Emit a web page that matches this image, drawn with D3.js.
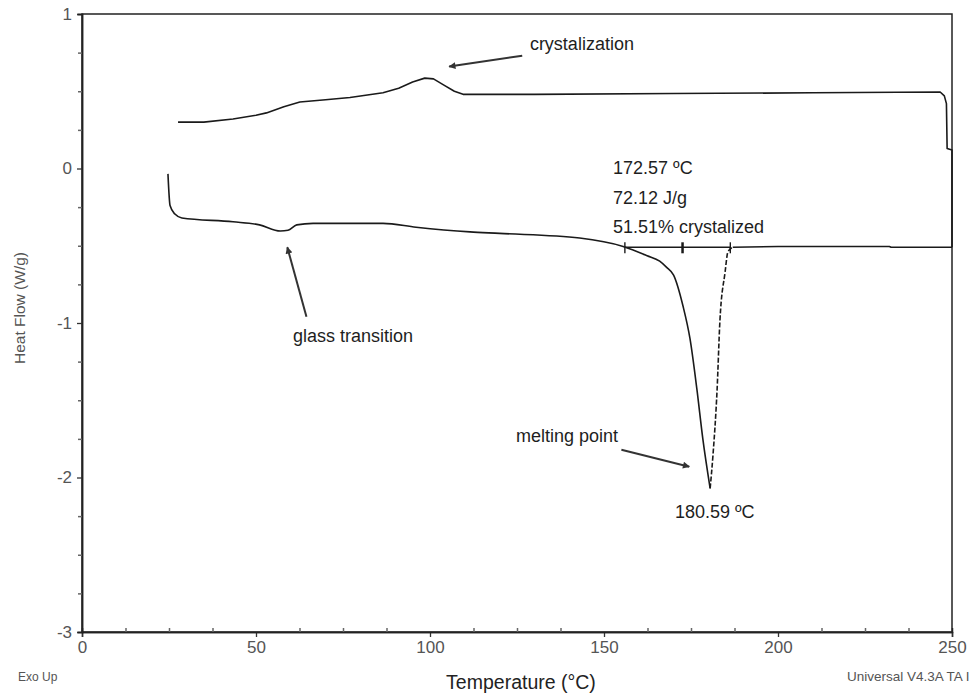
<!DOCTYPE html>
<html>
<head>
<meta charset="utf-8">
<script src="https://cdn.jsdelivr.net/npm/d3@7/dist/d3.min.js"></script>
<style>
  body { margin: 0; background: #fff; }
  svg { font-family: "Liberation Sans", Arial, sans-serif; }
</style>
</head>
<body>
<svg id="chart" width="978" height="694"></svg>
<script>
// heating scan, upper trace (T in °C, heat flow W/g)
const upperTrace = [
  [27.6, 0.30], [35, 0.30], [43.4, 0.32], [50, 0.345], [53, 0.36], [58, 0.40],
  [62.6, 0.43], [70, 0.445], [77, 0.46], [86.5, 0.49], [91, 0.52], [95, 0.56],
  [98.5, 0.585], [101, 0.58], [104, 0.54], [107, 0.50], [109.5, 0.48],
  [130, 0.48], [170, 0.485], [210, 0.49], [246.6, 0.495], [247.8, 0.47],
  [248.4, 0.42], [248.6, 0.13], [250, 0.12], [250, -0.51]
];
// lower trace up to the melting minimum
const lowerTrace = [
  [24.7, -0.035], [25.3, -0.24], [26.7, -0.295], [28.7, -0.32], [43.4, -0.345],
  [51, -0.365], [57, -0.405], [59.2, -0.40], [61.7, -0.365], [66.4, -0.355],
  [86.5, -0.355], [96, -0.38], [111.5, -0.41], [120, -0.42], [143, -0.45],
  [155.5, -0.505], [162.4, -0.565], [166, -0.60], [168, -0.64], [170, -0.69],
  [172.7, -0.89], [174.7, -1.10], [176.7, -1.43], [178.4, -1.75], [180.5, -2.07]
];
// rising side of the melting peak (drawn dashed) and the tail
const riseTrace = [
  [180.5, -2.07], [181.3, -1.86], [182.5, -1.43], [183.3, -0.99],
  [184.8, -0.67], [185.6, -0.54], [187, -0.51]
];
const tailTrace = [[187, -0.51], [200, -0.505], [232, -0.505], [232.5, -0.51], [250, -0.51]];

// integration baseline and its marks
const baselineRange = [156, 186.3];
const baselineLevel = -0.51;
const baselineMarks = [156, 172.57, 186.3];

const xTicks = [0, 50, 100, 150, 200, 250];
const yTicks = [1, 0, -1, -2, -3];

const labels = [
  { text: "crystalization", t: 128.7, v: 0.764 },
  { text: "glass transition", t: 60.6, v: -1.123 },
  { text: "melting point", t: 124.7, v: -1.77 },
  { text: "180.59 ºC", t: 170.4, v: -2.262 },
  { text: "172.57 ºC", t: 152.6, v: -0.036 },
  { text: "72.12 J/g", t: 152.6, v: -0.23 },
  { text: "51.51% crystalized", t: 152.6, v: -0.418 }
];
const arrows = [
  { from: [126.5, 0.73], to: [105.5, 0.66] },
  { from: [64.5, -0.96], to: [59, -0.51] },
  { from: [155, -1.82], to: [174.5, -1.93] }
];

const svg = d3.select("#chart");
const margin = { left: 82, right: 26, top: 14, bottom: 62 };
const width = 978, height = 694;

const x = d3.scaleLinear().domain([0, 250]).range([margin.left, width - margin.right]);
const y = d3.scaleLinear().domain([-3, 1]).range([height - margin.bottom, margin.top]);

// arrow head marker
svg.append("defs")
  .append("marker")
  .attr("id", "arrowhead")
  .attr("viewBox", "0 0 10 10")
  .attr("refX", 9)
  .attr("refY", 5)
  .attr("markerWidth", 9)
  .attr("markerHeight", 7)
  .attr("markerUnits", "userSpaceOnUse")
  .attr("orient", "auto")
  .append("path")
  .attr("d", "M0,0 L10,5 L0,10 Z")
  .attr("fill", "#333");

// frame
svg.append("rect")
  .attr("x", x(0))
  .attr("y", y(1))
  .attr("width", x(250) - x(0))
  .attr("height", y(-3) - y(1))
  .attr("fill", "none")
  .attr("stroke", "#222")
  .attr("stroke-width", 1.5);

// axes (major ticks outside, minor ticks inside)
const xAxis = svg.append("g")
  .attr("transform", `translate(0,${y(-3)})`)
  .call(d3.axisBottom(x).tickValues(xTicks).tickSize(5).tickPadding(4).tickFormat(d3.format("d")));
svg.append("g")
  .attr("class", "minor")
  .attr("transform", `translate(0,${y(-3)})`)
  .call(d3.axisTop(x).tickValues(d3.range(0, 251, 12.5).filter(d => d % 50 !== 0)).tickSize(4).tickFormat(""));

const yAxis = svg.append("g")
  .attr("transform", `translate(${x(0)},0)`)
  .call(d3.axisLeft(y).tickValues(yTicks).tickSize(5).tickPadding(5).tickFormat(d => String(d)));
svg.append("g")
  .attr("class", "minor")
  .attr("transform", `translate(${x(0)},0)`)
  .call(d3.axisLeft(y).tickValues(d3.range(-3, 1.01, 0.25).filter(d => d % 1 !== 0)).tickSize(4).tickFormat(""));

svg.selectAll(".domain").attr("stroke", "#222").attr("stroke-width", 1.5);
svg.selectAll(".tick line").attr("stroke", "#333").attr("stroke-width", 1.3);
svg.selectAll(".minor .tick line").attr("stroke", "#666").attr("stroke-width", 1.5);
[xAxis, yAxis].forEach(a => a.selectAll("text")
  .attr("font-size", 17)
  .attr("fill", "#555")
  .attr("font-family", "Liberation Sans, Arial, sans-serif"));

// curves
const line = d3.line().x(d => x(d[0])).y(d => y(d[1]));
const smooth = d3.line().x(d => x(d[0])).y(d => y(d[1])).curve(d3.curveMonotoneX);
const drawTrace = (data, gen, dash) => svg.append("path")
  .datum(data)
  .attr("d", gen)
  .attr("fill", "none")
  .attr("stroke", "#1a1a1a")
  .attr("stroke-width", 1.6)
  .attr("stroke-dasharray", dash)
  .attr("stroke-linejoin", "round");

drawTrace(upperTrace, line, null);
drawTrace(lowerTrace, smooth, null);
drawTrace(riseTrace, smooth, "5,2");
drawTrace(tailTrace, line, null);

// integration baseline
svg.append("line")
  .attr("x1", x(baselineRange[0]))
  .attr("x2", x(baselineRange[1]))
  .attr("y1", y(baselineLevel))
  .attr("y2", y(baselineLevel))
  .attr("stroke", "#1a1a1a")
  .attr("stroke-width", 1.4);
svg.selectAll(".bmark")
  .data(baselineMarks)
  .join("line")
  .attr("class", "bmark")
  .attr("x1", d => x(d))
  .attr("x2", d => x(d))
  .attr("y1", y(baselineLevel) - 5)
  .attr("y2", y(baselineLevel) + 6)
  .attr("stroke", "#1a1a1a")
  .attr("stroke-width", (d, i) => i === 1 ? 2.5 : 1.4);

// annotations
svg.selectAll(".note")
  .data(labels)
  .join("text")
  .attr("class", "note")
  .attr("x", d => x(d.t))
  .attr("y", d => y(d.v))
  .attr("font-size", 18)
  .attr("fill", "#1e1e1e")
  .text(d => d.text);

svg.selectAll(".arrow")
  .data(arrows)
  .join("line")
  .attr("class", "arrow")
  .attr("x1", d => x(d.from[0]))
  .attr("y1", d => y(d.from[1]))
  .attr("x2", d => x(d.to[0]))
  .attr("y2", d => y(d.to[1]))
  .attr("stroke", "#333")
  .attr("stroke-width", 2)
  .attr("marker-end", "url(#arrowhead)");

// axis titles and footers
svg.append("text")
  .attr("transform", `translate(25,${(y(1) + y(-3)) / 2 - 15}) rotate(-90)`)
  .attr("text-anchor", "middle")
  .attr("font-size", 15.5)
  .attr("fill", "#555")
  .text("Heat Flow (W/g)");

svg.append("text")
  .attr("x", 521)
  .attr("y", 689)
  .attr("text-anchor", "middle")
  .attr("font-size", 19.5)
  .attr("fill", "#222")
  .text("Temperature (°C)");

svg.append("text")
  .attr("x", 18)
  .attr("y", 681)
  .attr("font-size", 12)
  .attr("fill", "#555")
  .text("Exo Up");

svg.append("text")
  .attr("x", 847)
  .attr("y", 681)
  .attr("font-size", 13.5)
  .attr("fill", "#555")
  .text("Universal V4.3A TA I");
</script>
</body>
</html>
